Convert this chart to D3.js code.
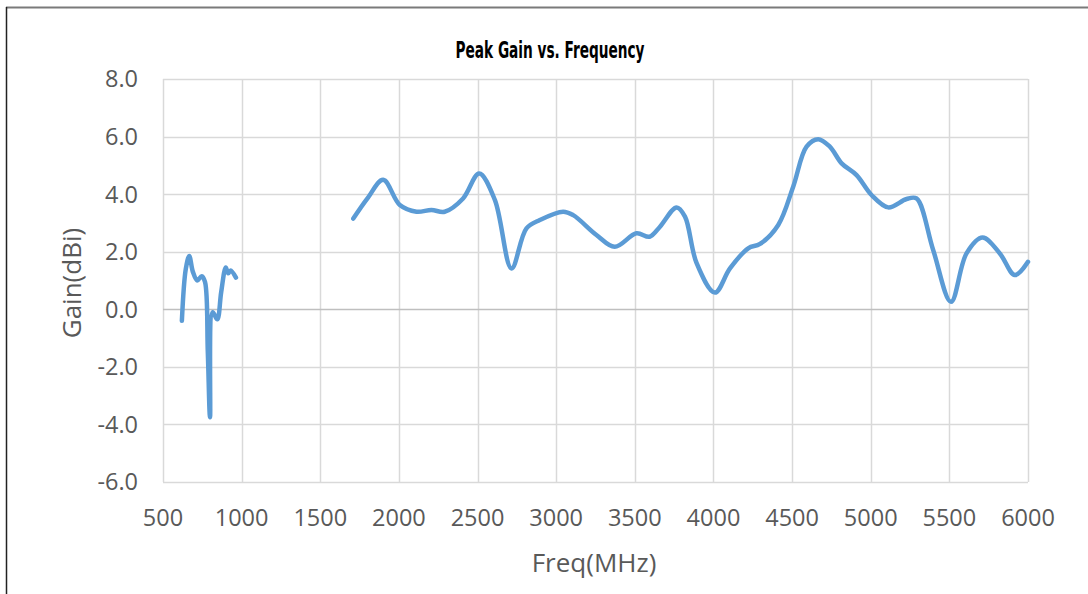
<!DOCTYPE html>
<html>
<head>
<meta charset="utf-8">
<script src="https://cdn.jsdelivr.net/npm/d3@7/dist/d3.min.js"></script>
<style>
  body { margin: 0; background: #fff; }
  svg { display: block; }
  .tick-label { font-family: "Open Sans", sans-serif; font-size: 23.5px; fill: #595959; }
  .axis-title { font-family: "Open Sans", sans-serif; font-size: 26px; fill: #595959; }
</style>
</head>
<body>
<svg id="chart" width="1088" height="594"></svg>
<script>
// Measured peak gain (dBi) vs frequency (MHz); null marks the band gap
const freqMHz = [620, 645, 667, 690, 718, 746, 767, 785, 799, 816, 845, 870, 899, 915, 930, 964,
  1200,
  1710, 1800, 1900, 2006, 2112, 2207, 2291, 2408, 2510, 2610, 2716, 2811, 2896, 3044, 3108, 3256,
  3372, 3510, 3594, 3660, 3766, 3819, 3893, 4009, 4105, 4221, 4296, 4412, 4507, 4592, 4666, 4740,
  4815, 4910, 5005, 5111, 5228, 5291, 5397, 5510, 5609, 5711, 5821, 5916, 6000];
const gainDBi = [-0.4, 1.4, 1.85, 1.3, 1.0, 1.15, 0.95, -1.5, -3.75, -0.1, -0.35, 0.6, 1.45, 1.25, 1.35, 1.1,
  null,
  3.15, 3.85, 4.5, 3.62, 3.39, 3.45, 3.39, 3.85, 4.72, 3.8, 1.42, 2.81, 3.1, 3.39, 3.27, 2.58,
  2.17, 2.64, 2.52, 2.87, 3.54, 3.22, 1.6, 0.58, 1.42, 2.12, 2.27, 2.93, 4.26, 5.65, 5.91, 5.65,
  5.07, 4.66, 3.97, 3.54, 3.83, 3.85, 2.06, 0.26, 1.94, 2.49, 1.94, 1.19, 1.65];
const xTicks = [500, 1000, 1500, 2000, 2500, 3000, 3500, 4000, 4500, 5000, 5500, 6000];
const yTicks = [-6, -4, -2, 0, 2, 4, 6, 8];

const svg = d3.select('#chart');
const plotLeft = 163, plotRight = 1028, plotTop = 79, plotBottom = 482;

const x = d3.scaleLinear().domain([500, 6000]).range([plotLeft, plotRight]);
const y = d3.scaleLinear().domain([-6, 8]).range([plotBottom, plotTop]);
// plain hyphen for negatives, like the original
const fmtGain = d3.formatLocale({ decimal: '.', thousands: ',', grouping: [3], currency: ['', ''], minus: '-' }).format('.1f');

// Chart frame edges (only top and left are in view)
svg.append('line').attr('x1', 6).attr('x2', 1088).attr('y1', 7.5).attr('y2', 7.5)
  .attr('stroke', '#7a7a7a').attr('stroke-width', 2);
svg.append('line').attr('x1', 6.5).attr('x2', 6.5).attr('y1', 7).attr('y2', 594)
  .attr('stroke', '#222').attr('stroke-width', 1.5);

// Gridlines
svg.append('g').selectAll('line').data(xTicks).join('line')
  .attr('x1', d => Math.round(x(d)) + 0.5).attr('x2', d => Math.round(x(d)) + 0.5)
  .attr('y1', plotTop).attr('y2', plotBottom)
  .attr('stroke', '#d9d9d9').attr('stroke-width', 1.5);
svg.append('g').selectAll('line').data(yTicks).join('line')
  .attr('x1', plotLeft).attr('x2', plotRight)
  .attr('y1', d => Math.round(y(d)) + 0.5).attr('y2', d => Math.round(y(d)) + 0.5)
  .attr('stroke', d => d === 0 ? '#bfbfbf' : '#d9d9d9').attr('stroke-width', 1.5);

// Tick labels
svg.append('g').selectAll('text').data(yTicks).join('text')
  .attr('class', 'tick-label')
  .attr('x', 138).attr('y', d => y(d)).attr('dy', '0.36em')
  .attr('text-anchor', 'end')
  .text(d => fmtGain(d));
svg.append('g').selectAll('text').data(xTicks).join('text')
  .attr('class', 'tick-label')
  .attr('x', d => x(d)).attr('y', 518).attr('dy', '0.36em')
  .attr('text-anchor', 'middle')
  .text(d => d);

// Data line, smoothed like the spreadsheet
const line = d3.line()
  .defined((d, i) => gainDBi[i] !== null)
  .x((d, i) => x(freqMHz[i]))
  .y((d, i) => y(gainDBi[i]))
  .curve(d3.curveCatmullRom.alpha(0.5));
svg.append('path').datum(freqMHz)
  .attr('d', line)
  .attr('fill', 'none')
  .attr('stroke', '#5b9bd5')
  .attr('stroke-width', 4.5)
  .attr('stroke-linecap', 'round')
  .attr('stroke-linejoin', 'round');

// Titles
svg.append('text')
  .attr('x', 550).attr('y', 58)
  .attr('text-anchor', 'middle')
  .attr('textLength', 189).attr('lengthAdjust', 'spacingAndGlyphs')
  .style('font-family', '"Liberation Sans Narrow", "DejaVu Sans Condensed", sans-serif')
  .style('font-weight', 'bold').style('font-size', '23px').style('fill', '#000')
  .text('Peak Gain vs. Frequency');
svg.append('text')
  .attr('class', 'axis-title')
  .attr('x', 594).attr('y', 563).attr('dy', '0.36em')
  .attr('text-anchor', 'middle')
  .text('Freq(MHz)');
svg.append('text')
  .attr('class', 'axis-title')
  .attr('transform', 'translate(72,283) rotate(-90)')
  .attr('dy', '0.36em')
  .attr('text-anchor', 'middle')
  .text('Gain(dBi)');
</script>
</body>
</html>
